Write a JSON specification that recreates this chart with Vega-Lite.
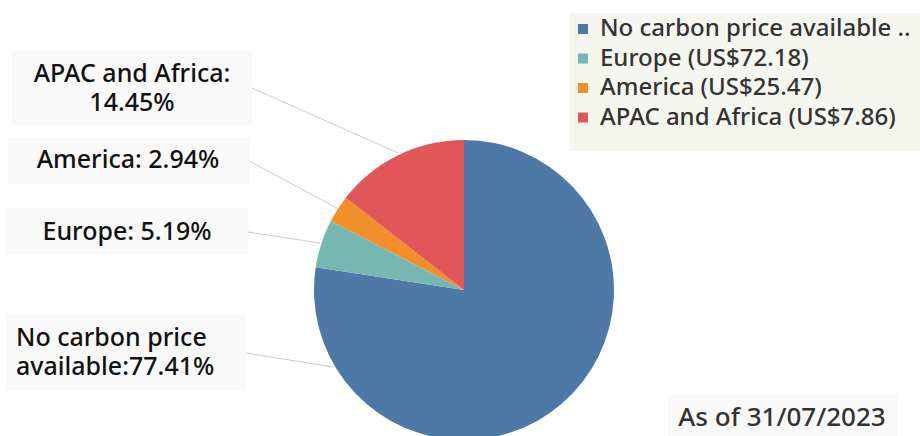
{
  "$schema": "https://vega.github.io/schema/vega-lite/v6.json",
  "width": 920,
  "height": 436,
  "autosize": "none",
  "padding": 0,
  "background": "white",
  "config": {"view": {"stroke": null}, "font": "Noto Sans"},
  "datasets": {
    "shares": [
      {"region": "No carbon price available", "legend": "No carbon price available ..", "share": 77.41, "rank": 1, "note": "No carbon price\navailable:77.41%"},
      {"region": "Europe", "legend": "Europe (US$72.18)", "share": 5.19, "rank": 2, "note": "Europe: 5.19%"},
      {"region": "America", "legend": "America (US$25.47)", "share": 2.94, "rank": 3, "note": "America: 2.94%"},
      {"region": "APAC and Africa", "legend": "APAC and Africa (US$7.86)", "share": 14.45, "rank": 4, "note": "APAC and Africa:\n14.45%"}
    ],
    "one": [{"caption": "As of 31/07/2023"}]
  },
  "layer": [
    {"data": {"name": "one"}, "mark": {"type": "rect", "x": 570, "x2": 925, "y": 13, "y2": 151, "fill": "#f6f6f0"}, "encoding": {}},
    {"data": {"name": "one"}, "mark": {"type": "rect", "x": 12, "x2": 252, "y": 50, "y2": 126, "fill": "#f9f9f9"}, "encoding": {}},
    {"data": {"name": "one"}, "mark": {"type": "rect", "x": 8, "x2": 249, "y": 137, "y2": 184, "fill": "#f9f9f9"}, "encoding": {}},
    {"data": {"name": "one"}, "mark": {"type": "rect", "x": 6, "x2": 248, "y": 208, "y2": 255, "fill": "#f9f9f9"}, "encoding": {}},
    {"data": {"name": "one"}, "mark": {"type": "rect", "x": 7, "x2": 246, "y": 315, "y2": 391, "fill": "#f9f9f9"}, "encoding": {}},
    {"data": {"name": "one"}, "mark": {"type": "rect", "x": 668, "x2": 897, "y": 395, "y2": 440, "fill": "#f9f9f9"}, "encoding": {}},
    {"data": {"name": "one"}, "mark": {"type": "rule", "stroke": "#cccccc", "strokeWidth": 1}, "encoding": {"x": {"value": 252}, "y": {"value": 88}, "x2": {"value": 398}, "y2": {"value": 153}}},
    {"data": {"name": "one"}, "mark": {"type": "rule", "stroke": "#cccccc", "strokeWidth": 1}, "encoding": {"x": {"value": 249}, "y": {"value": 161}, "x2": {"value": 337}, "y2": {"value": 208}}},
    {"data": {"name": "one"}, "mark": {"type": "rule", "stroke": "#cccccc", "strokeWidth": 1}, "encoding": {"x": {"value": 248}, "y": {"value": 232}, "x2": {"value": 320}, "y2": {"value": 243}}},
    {"data": {"name": "one"}, "mark": {"type": "rule", "stroke": "#cccccc", "strokeWidth": 1}, "encoding": {"x": {"value": 246}, "y": {"value": 353}, "x2": {"value": 333}, "y2": {"value": 367}}},
    {
      "data": {"name": "shares"},
      "mark": {"type": "arc", "x": 464, "y": 290, "outerRadius": 150},
      "encoding": {
        "theta": {"field": "share", "type": "quantitative", "stack": true},
        "order": {"field": "rank", "type": "quantitative"},
        "color": {
          "field": "legend",
          "type": "nominal",
          "sort": ["No carbon price available ..", "Europe (US$72.18)", "America (US$25.47)", "APAC and Africa (US$7.86)"],
          "scale": {
            "domain": ["No carbon price available ..", "Europe (US$72.18)", "America (US$25.47)", "APAC and Africa (US$7.86)"],
            "range": ["#4e79a7", "#76b7b2", "#f28e2b", "#e15759"]
          },
          "legend": {
            "orient": "none",
            "legendX": 571,
            "legendY": 17,
            "title": null,
            "padding": 0,
            "symbolType": "square",
            "symbolSize": 100,
            "symbolStrokeWidth": 0,
            "labelFontSize": 24,
            "labelFontWeight": 500,
            "labelColor": "#333333",
            "labelFont": "Noto Sans",
            "labelLimit": 400,
            "labelOffset": 5,
            "rowPadding": 5.5
          }
        }
      }
    },
    {
      "data": {"name": "shares"},
      "transform": [{"filter": "datum.region === 'APAC and Africa'"}],
      "mark": {"type": "text", "x": 132, "y": 74, "align": "center", "baseline": "middle", "lineBreak": "\n", "lineHeight": 29, "fontSize": 25, "fontWeight": 500, "color": "#111111"},
      "encoding": {"text": {"field": "note"}}
    },
    {
      "data": {"name": "shares"},
      "transform": [{"filter": "datum.region === 'America'"}],
      "mark": {"type": "text", "x": 128, "y": 160, "align": "center", "baseline": "middle", "fontSize": 25, "fontWeight": 500, "color": "#111111"},
      "encoding": {"text": {"field": "note"}}
    },
    {
      "data": {"name": "shares"},
      "transform": [{"filter": "datum.region === 'Europe'"}],
      "mark": {"type": "text", "x": 127, "y": 232, "align": "center", "baseline": "middle", "fontSize": 25, "fontWeight": 500, "color": "#111111"},
      "encoding": {"text": {"field": "note"}}
    },
    {
      "data": {"name": "shares"},
      "transform": [{"filter": "datum.region === 'No carbon price available'"}],
      "mark": {"type": "text", "x": 16, "y": 338, "align": "left", "baseline": "middle", "lineBreak": "\n", "lineHeight": 29, "fontSize": 25, "fontWeight": 500, "color": "#111111"},
      "encoding": {"text": {"field": "note"}}
    },
    {
      "data": {"name": "one"},
      "mark": {"type": "text", "x": 782, "y": 418, "align": "center", "baseline": "middle", "fontSize": 26, "fontWeight": 500, "color": "#333333"},
      "encoding": {"text": {"field": "caption"}}
    }
  ]
}
